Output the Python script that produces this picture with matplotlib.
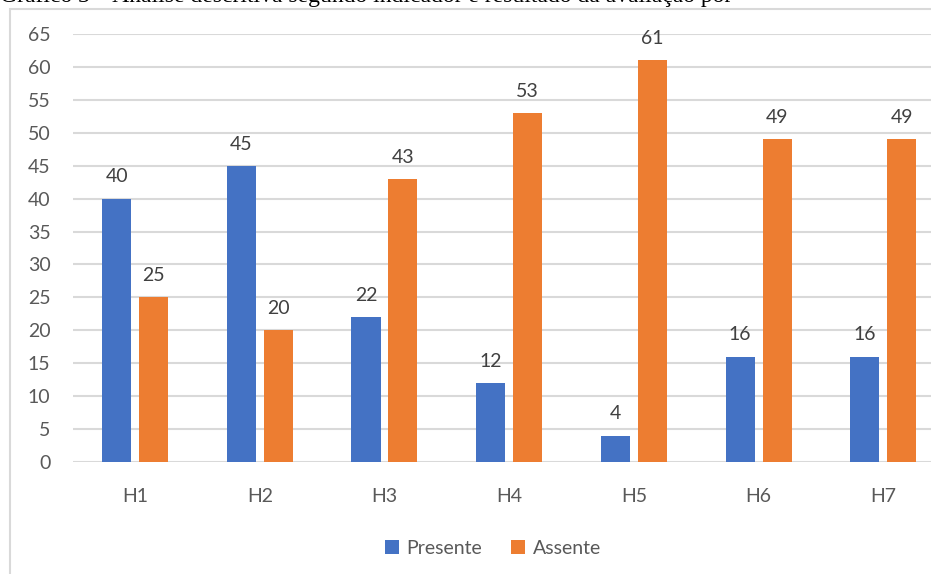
import matplotlib
matplotlib.use('Agg')
from matplotlib import pyplot as plt
from matplotlib.patches import Rectangle
import numpy as np

categories = ["H1", "H2", "H3", "H4", "H5", "H6", "H7"]
presente = [40, 45, 22, 12, 4, 16, 16]
assente = [25, 20, 43, 53, 61, 49, 49]

BLUE = "#4472C4"
ORANGE = "#ED7D31"
GRAY = "#595959"
GRID = "#D9D9D9"

plt.rcParams['font.family'] = ['Lato', 'DejaVu Sans']

W, H = 931, 574
fig = plt.figure(figsize=(W / 100, H / 100), dpi=100)

# caption above the chart frame, cut by the top edge as in the source image
fig.text(0.0, 1 - 2 / H, "Gráfico 3 – Análise descritiva segundo indicador e resultado da avaliação por",
         family=['Liberation Serif'], fontsize=17, va='baseline', ha='left', color='black')

# chart frame
fig.patches.append(Rectangle((10 / W, -0.1), 1.2, 1 - 9 / H + 0.1, transform=fig.transFigure,
                             fill=False, edgecolor=GRID, linewidth=1.5))

ax = fig.add_axes([72.7 / W, 112 / H, 873 / W, 428 / H])
x = np.arange(len(categories))
bw = 0.233
off = 0.148
b1 = ax.bar(x - off, presente, bw, color=BLUE, label="Presente")
b2 = ax.bar(x + off, assente, bw, color=ORANGE, label="Assente")

for bars, vals in ((b1, presente), (b2, assente)):
    for rect, v in zip(bars, vals):
        ax.text(rect.get_x() + rect.get_width() / 2, v + 2.0, str(v),
                ha='center', va='bottom', fontsize=14, color="#404040")

ax.set_xlim(-0.5, len(categories) - 0.5)
ax.set_ylim(0, 65)
ax.set_yticks(range(0, 66, 5))
ax.set_xticks(x)
ax.set_xticklabels(categories)
ax.yaxis.grid(True, color=GRID, linewidth=1.5)
ax.set_axisbelow(True)
for s in ax.spines.values():
    s.set_visible(False)
ax.tick_params(axis='both', length=0, labelsize=14, labelcolor=GRAY)
ax.tick_params(axis='y', pad=16)
ax.tick_params(axis='x', pad=19)

leg = fig.legend(handles=[b1, b2], loc='center', bbox_to_anchor=(493 / W, 1 - 548 / H),
                 ncol=2, frameon=False, fontsize=14, handlelength=0.7, handleheight=0.7,
                 handletextpad=0.4, columnspacing=1.5)
for t in leg.get_texts():
    t.set_color(GRAY)

fig.savefig("out.png", dpi=100)
